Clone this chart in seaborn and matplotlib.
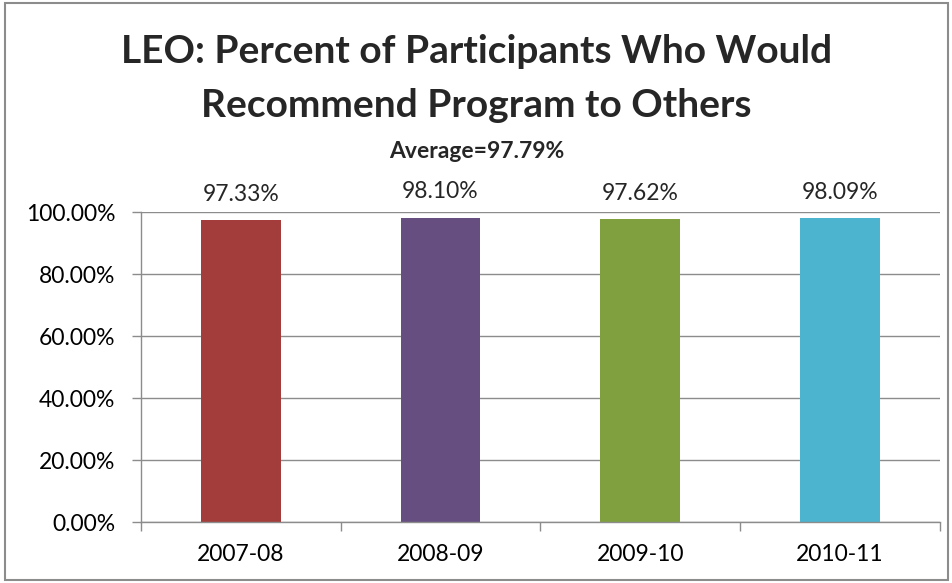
import matplotlib
matplotlib.use("Agg")
import matplotlib.pyplot as plt
import seaborn as sns
import pandas as pd
from matplotlib.patches import Rectangle

categories = ["2007-08", "2008-09", "2009-10", "2010-11"]
values = [97.33, 98.10, 97.62, 98.09]
labels = ["97.33%", "98.10%", "97.62%", "98.09%"]
yticks = [0, 20, 40, 60, 80, 100]
ytick_labels = ["0.00%", "20.00%", "40.00%", "60.00%", "80.00%", "100.00%"]
colors = ["#A23D3B", "#664F80", "#80A040", "#4CB4CF"]

sns.set_theme(style="white")
plt.rcParams['font.family'] = ['Lato', 'DejaVu Sans']

df = pd.DataFrame({"cat": categories, "val": values})

fig = plt.figure(figsize=(9.53, 5.83), dpi=100)
ax = fig.add_axes([0.148, 0.1046, 0.838, 0.5317])

sns.barplot(data=df, x="cat", y="val", hue="cat", palette=colors, legend=False,
            width=0.40, ax=ax, saturation=1, edgecolor="none")

ax.set_xlim(-0.5, 3.5)
ax.set_ylim(0, 100)
ax.set_yticks(yticks)
ax.set_yticklabels(ytick_labels)
ax.set_xlabel("")
ax.set_ylabel("")
ax.yaxis.grid(True, color="#8C8C8C", linewidth=1)
ax.set_axisbelow(True)
for s in ["top", "right"]:
    ax.spines[s].set_visible(False)
for s in ["left", "bottom"]:
    ax.spines[s].set_color("#8C8C8C")
    ax.spines[s].set_linewidth(1)

ax.set_xticks([-0.5, 0.5, 1.5, 2.5, 3.5], minor=True)
ax.tick_params(axis="x", which="major", length=0, labelsize=16.5, pad=16, colors="black")
ax.tick_params(axis="x", which="minor", length=6.5, color="#8C8C8C", width=1, bottom=True)
ax.tick_params(axis="y", length=6.5, color="#8C8C8C", width=1, labelsize=16.5, left=True, pad=12)
for t in ax.get_yticklabels() + ax.get_xticklabels():
    t.set_color("black")

for i, (v, lab) in enumerate(zip(values, labels)):
    ax.annotate(lab, (i, v), xytext=(0, 14), textcoords="offset points",
                ha="center", va="baseline", fontsize=16.5, annotation_clip=False)

fig.text(0.5, 0.892, "LEO: Percent of Participants Who Would", ha="center", va="baseline",
         fontsize=28, fontweight="bold")
fig.text(0.5, 0.799, "Recommend Program to Others", ha="center", va="baseline",
         fontsize=28, fontweight="bold")
fig.text(0.5, 0.729, "Average=97.79%", ha="center", va="baseline",
         fontsize=16.5, fontweight="bold")

fig.patches.append(Rectangle((0.005, 0.005), 0.99, 0.99, transform=fig.transFigure,
                             fill=False, edgecolor="#8C8C8C", linewidth=1.5))

fig.savefig("out.png", dpi=100, facecolor="white")
